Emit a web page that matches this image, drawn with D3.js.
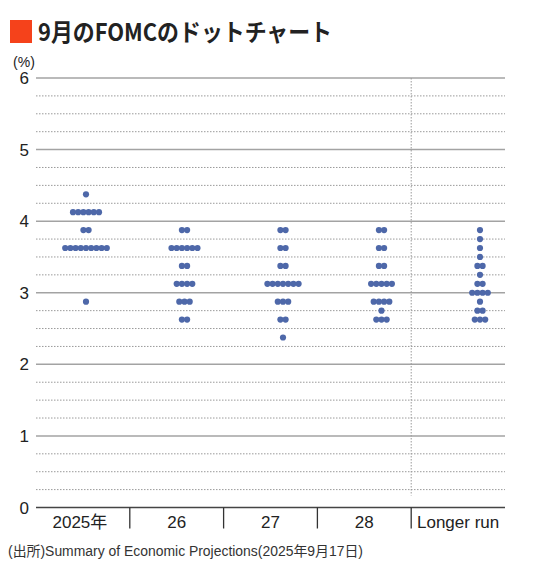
<!DOCTYPE html>
<html><head><meta charset="utf-8">
<script src="https://cdn.jsdelivr.net/npm/d3@7"></script>
<style>
html,body{margin:0;padding:0;background:#fff;}
svg{display:block;}
text{font-family:"Liberation Sans","Noto Sans CJK JP",sans-serif;}
</style></head>
<body>
<script>
const categories = ["2025年","26","27","28","Longer run"];
const yTicks = [0,1,2,3,4,5,6];
// [rate, number of participants]
const dots2025 = [[4.375,1],[4.125,6],[3.875,2],[3.625,9],[2.875,1]];
const dots2026 = [[3.875,2],[3.625,6],[3.375,2],[3.125,4],[2.875,3],[2.625,2]];
const dots2027 = [[3.875,2],[3.625,2],[3.375,2],[3.125,7],[2.875,3],[2.625,2],[2.375,1]];
const dots2028 = [[3.875,2],[3.625,2],[3.375,2],[3.125,5],[2.875,4],[2.75,1],[2.625,3]];
const dotsLonger = [[3.875,1],[3.75,1],[3.625,1],[3.5,1],[3.375,2],[3.25,1],[3.125,2],[3.0,4],[2.875,1],[2.75,2],[2.625,3]];
const title = "9月のFOMCのドットチャート";
const source = "(出所)Summary of Economic Projections(2025年9月17日)";

(function(){
const W = 550, H = 578;
const svg = d3.select("body").append("svg").attr("width", W).attr("height", H);

const pLeft = 36, pRight = 505, pTop = 78, pBottom = 507.5;
const y = d3.scaleLinear().domain([0, 6]).range([pBottom, pTop]);
const xBand = d3.scaleBand().domain(categories).range([pLeft, pRight]);
const xDot = d3.scalePoint().domain(categories).range([86, 480]);

// title
svg.append("rect").attr("x", 10).attr("y", 20).attr("width", 22).attr("height", 23).attr("fill", "#f5421b");
svg.append("text").attr("x", 38).attr("y", 41).text(title)
  .attr("font-size", 24).attr("font-weight", "bold").attr("fill", "#222")
  .style("font-family", "'Noto Sans CJK JP',sans-serif")
  .attr("textLength", 294).attr("lengthAdjust", "spacingAndGlyphs");

// minor dotted grid
const minor = d3.range(0, 6.001, 0.25).filter(v => Math.abs(v - Math.round(v)) > 1e-6);
svg.append("g").selectAll("line").data(minor).join("line")
  .attr("x1", pLeft).attr("x2", pRight)
  .attr("y1", d => y(d)).attr("y2", d => y(d))
  .attr("stroke", "#9a9a9a").attr("stroke-width", 1).attr("stroke-dasharray", "1.5,1.5");

// major grid
svg.append("g").selectAll("line").data(yTicks.filter(d => d > 0)).join("line")
  .attr("x1", pLeft).attr("x2", pRight)
  .attr("y1", d => y(d)).attr("y2", d => y(d))
  .attr("stroke", "#a3a3a3").attr("stroke-width", 1.5);

// vertical dotted separator before Longer run
svg.append("line")
  .attr("x1", xBand("Longer run")).attr("x2", xBand("Longer run"))
  .attr("y1", y(6)).attr("y2", y(0) - 12)
  .attr("stroke", "#9a9a9a").attr("stroke-width", 1).attr("stroke-dasharray", "1.5,1.5");

// zero axis
svg.append("line").attr("x1", pLeft).attr("x2", pRight).attr("y1", y(0)).attr("y2", y(0))
  .attr("stroke", "#444").attr("stroke-width", 1.5);

// y tick labels
svg.append("g").selectAll("text").data(yTicks).join("text")
  .attr("x", 29).attr("y", d => y(d)).attr("dy", "0.36em")
  .attr("text-anchor", "end").attr("font-size", 17).attr("fill", "#222")
  .text(d => d);
svg.append("text").attr("x", 24).attr("y", 62).attr("dy", "0.36em").attr("text-anchor", "middle")
  .attr("font-size", 14).attr("fill", "#222").text("(%)");

// x separators
svg.append("g").selectAll("line").data(categories.slice(1)).join("line")
  .attr("x1", d => xBand(d)).attr("x2", d => xBand(d))
  .attr("y1", y(0)).attr("y2", y(0) + 21)
  .attr("stroke", "#333").attr("stroke-width", 1.3);

// x labels
svg.append("g").selectAll("text").data(categories).join("text")
  .attr("x", d => xBand(d) + xBand.bandwidth() / 2 - (d === "2025年" ? 3 : 0))
  .attr("y", 522).attr("dy", "0.36em").attr("text-anchor", "middle")
  .attr("font-size", 17).attr("fill", "#222").text(d => d);

// dots
const series = [dots2025, dots2026, dots2027, dots2028, dotsLonger];
const step = 5.2, r = 3.1;
const pts = [];
series.forEach((rows, ci) => {
  rows.forEach(([rate, n]) => {
    for (let i = 0; i < n; i++) {
      pts.push({cat: categories[ci], rate, off: (i - (n - 1) / 2) * step});
    }
  });
});
svg.append("g").selectAll("circle").data(pts).join("circle")
  .attr("cx", d => xDot(d.cat) + d.off)
  .attr("cy", d => y(d.rate))
  .attr("r", r).attr("fill", "#4e68a9");

// source
svg.append("text").attr("x", 8).attr("y", 551).attr("dy", "0.36em")
  .attr("font-size", 14).attr("fill", "#333").text(source)
  .attr("textLength", 355).attr("lengthAdjust", "spacingAndGlyphs");
})();
</script>
</body></html>
